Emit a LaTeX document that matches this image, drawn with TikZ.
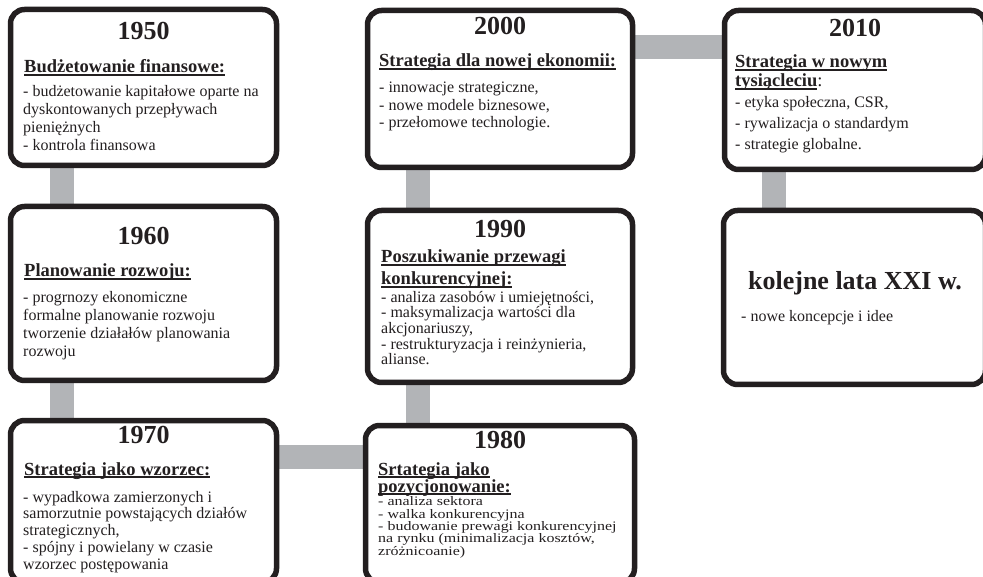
\documentclass[tikz,border=0pt]{standalone}
\usepackage{fontspec}
\setmainfont{Liberation Serif}
\newfontfamily\widefont[FakeStretch=1.23]{Liberation Serif}
\usepackage{xcolor}
\usetikzlibrary{positioning,calc,backgrounds}
\definecolor{barfill}{RGB}{178,180,183}
\definecolor{inkc}{RGB}{35,31,32}
\newcommand{\undl}[1]{\setbox0\hbox{#1}\rlap{\rule[-2.6pt]{\wd0}{1.3pt}}\box0}
\setlength{\lineskiplimit}{-20pt}

\begin{document}
\begin{tikzpicture}[
x=1pt,
y=-1pt,
every node/.style={text=inkc},
frame/.style={rectangle,rounded corners=14pt,draw=inkc,line width=5.5pt,fill=white,inner sep=0pt},
yeartxt/.style={font=\fontsize{26}{28}\selectfont\bfseries,anchor=base,inner sep=0pt},
headtxt/.style={font=\fontsize{18.5}{#1}\selectfont\bfseries,align=left,anchor=base west,inner sep=0pt},
listtxt/.style={font=\fontsize{16}{#1}\selectfont,align=left,anchor=base west,inner sep=0pt},
bar/.style={draw=barfill,line width=24pt}
]
\useasboundingbox (0,0) rectangle (983,577);
\clip (0,0) rectangle (983,577);

% left column (text nodes sit on the baseline of their last line)
\node[frame,minimum width=266,minimum height=156] (n1950) at (143.5,87.5) {};
\node[yeartxt] (t1950) at (143.5,40) {1950};
\node[headtxt=21] (h1950) at (24,73) {\undl{Budżetowanie finansowe:}};
\node[listtxt=18] (b1950) at (23,151) {- budżetowanie kapitałowe oparte na\\dyskontowanych przepływach\\pieniężnych\\- kontrola finansowa};

\node[frame,minimum width=266,minimum height=174] (n1960) at (143.5,293.5) {};
\node[yeartxt] (t1960) at (143.5,245) {1960};
\node[headtxt=21] (h1960) at (24,277) {\undl{Planowanie rozwoju:}};
\node[listtxt=17.7] (b1960) at (23,356) {- progrnozy ekonomiczne\\formalne planowanie rozwoju\\tworzenie działałów planowania\\rozwoju};

\node[frame,minimum width=266,minimum height=162] (n1970) at (143.5,501.5) {};
\node[yeartxt] (t1970) at (143.5,443) {1970};
\node[headtxt=21] (h1970) at (24,475) {\undl{Strategia jako wzorzec:}};
\node[listtxt=16.7] (b1970) at (23,569) {- wypadkowa zamierzonych i\\samorzutnie powstających działów\\strategicznych,\\- spójny i powielany w czasie\\wzorzec postępowania};

% middle column
\node[frame,minimum width=269,minimum height=157] (n1980) at (500,504) {};
\node[yeartxt] (t1980) at (500,448) {1980};
\node[headtxt=17] (h1980) at (378,492) {\undl{Srtategia jako}\\\undl{pozycjonowanie:}};
\node[listtxt=12.3,font=\widefont\fontsize{13}{12.3}\selectfont] (b1980) at (378,555) {- analiza sektora\\- walka konkurencyjna\\- budowanie prewagi konkurencyjnej\\na rynku (minimalizacja kosztów,\\zróżnicoanie)};

\node[frame,minimum width=265,minimum height=172] (n1990) at (500,296.5) {};
\node[yeartxt] (t1990) at (500,238) {1990};
\node[headtxt=22] (h1990) at (381,285) {\undl{Poszukiwanie przewagi}\\\undl{konkurencyjnej:}};
\node[listtxt=15.7] (b1990) at (381,365) {- analiza zasobów i umiejętności,\\- maksymalizacja wartości dla\\akcjonariuszy,\\- restrukturyzacja i reinżynieria,\\alianse.};

\node[frame,minimum width=265,minimum height=157] (n2000) at (500,89) {};
\node[yeartxt] (t2000) at (500,35) {2000};
\node[headtxt=21] (h2000) at (379,67) {\undl{Strategia dla nowej ekonomii:}};
\node[listtxt=17.5] (b2000) at (379,128) {- innowacje strategiczne,\\- nowe modele biznesowe,\\- przełomowe technologie.};

% right column
\node[frame,minimum width=261,minimum height=159] (n2010) at (855,90) {};
\node[yeartxt] (t2010) at (855,37) {2010};
\node[headtxt=19] (h2010) at (735,87) {\undl{Strategia w nowym}\\\undl{tysiącleciu}{\mdseries:}};
\node[listtxt=21] (b2010) at (735,150) {- etyka społeczna, CSR,\\- rywalizacja o standardym\\- strategie globalne.};

\node[frame,minimum width=262,minimum height=174] (nXXI) at (854.5,297.5) {};
\node[yeartxt] (tXXI) at (855,290) {kolejne lata XXI w.};
\node[listtxt=18] (bXXI) at (741,322) {- nowe koncepcje i idee};

% gray links
\begin{scope}[on background layer]
\draw[bar] ($(n1950.south west)+(54.5,0)$) -- ($(n1960.north west)+(54.5,0)$);
\draw[bar] ($(n1960.south west)+(54.5,0)$) -- ($(n1970.north west)+(54.5,0)$);
\draw[bar] ($(n1970.north east)+(0,39.5)$) -- ($(n1980.north west)+(0,34.5)$);
\draw[bar] ($(n1990.south west)+(53.5,0)$) -- ($(n1980.north west)+(55.5,0)$);
\draw[bar] ($(n2000.south west)+(53,0)$) -- ($(n1990.north west)+(53,0)$);
\draw[bar] ($(n2000.north east)+(0,39.5)$) -- ($(n2010.north west)+(0,39.5)$);
\draw[bar] ($(n2010.south west)+(52.5,0)$) -- ($(nXXI.north west)+(53.5,0)$);
\end{scope}
\end{tikzpicture}
\end{document}
